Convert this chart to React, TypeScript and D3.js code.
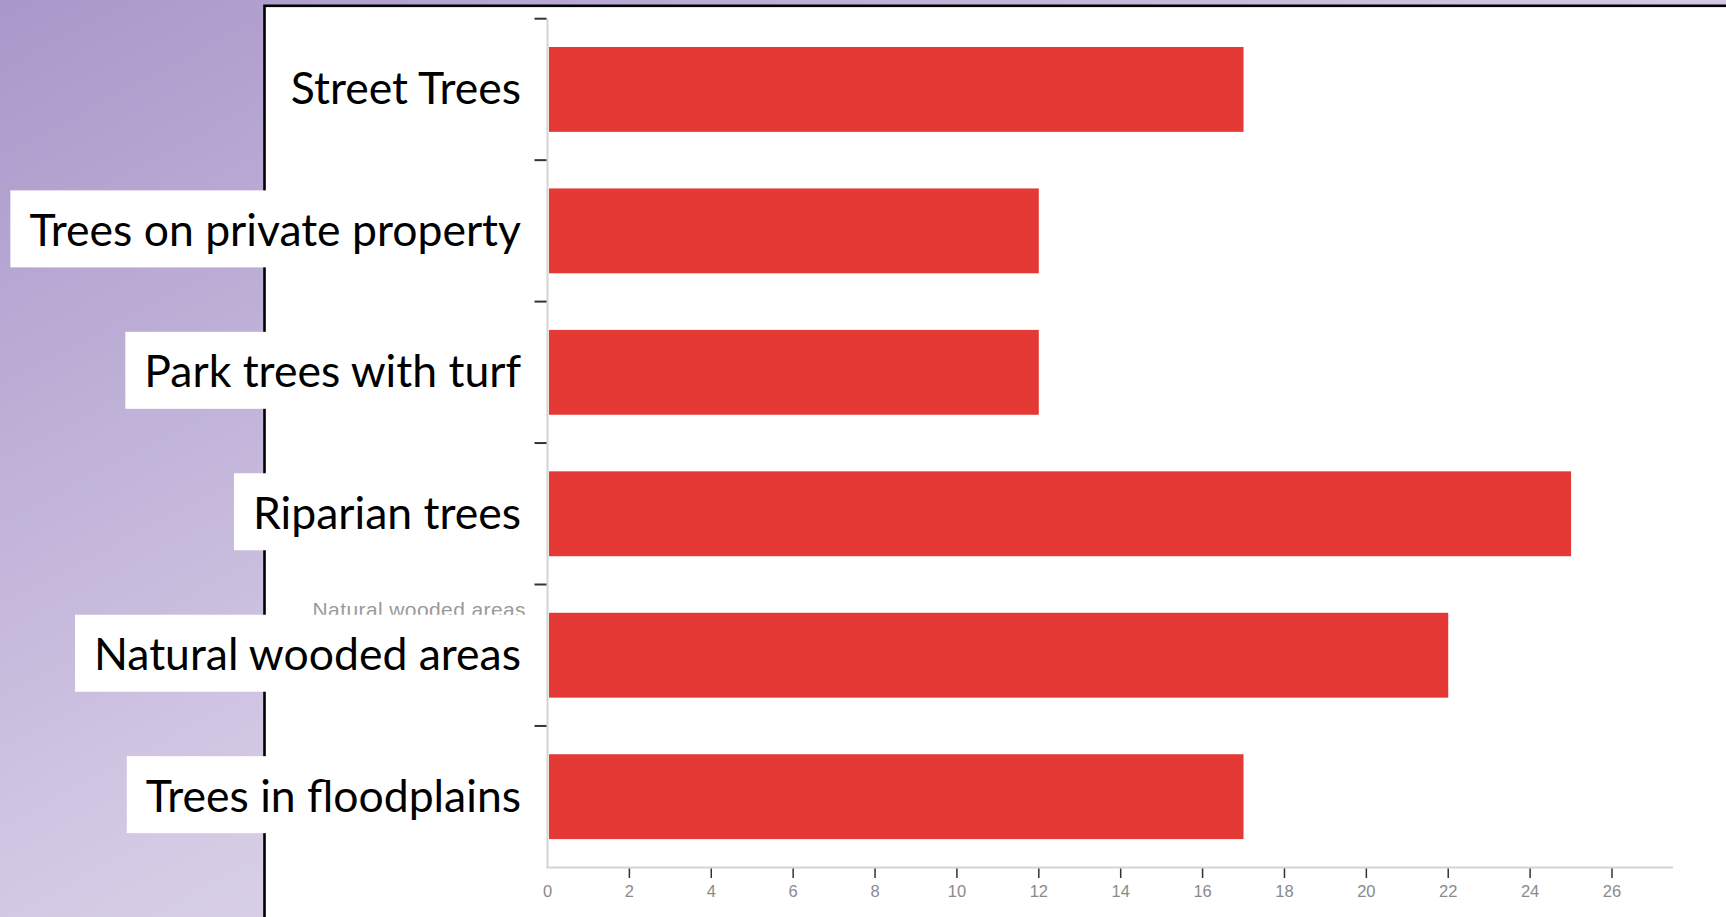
import React, { useEffect, useRef } from "react";
import * as d3 from "d3";

const categories = [
  "Street Trees",
  "Trees on private property",
  "Park trees with turf",
  "Riparian trees",
  "Natural wooded areas",
  "Trees in floodplains",
];
const values = [17, 12, 12, 25, 22, 17];
const xTicks = [0, 2, 4, 6, 8, 10, 12, 14, 16, 18, 20, 22, 24, 26];
const hiddenAxisLabel = "Natural wooded areas";

const W = 1726;
const H = 917;

export default function App() {
  const ref = useRef<SVGSVGElement | null>(null);

  useEffect(() => {
    const svg = d3.select(ref.current);
    svg.selectAll("*").remove();

    const defs = svg.append("defs");
    const grad = defs
      .append("linearGradient")
      .attr("id", "bg")
      .attr("x1", "0")
      .attr("y1", "0")
      .attr("x2", "1")
      .attr("y2", "1");
    grad.append("stop").attr("offset", "0").attr("stop-color", "#aa97ca");
    grad.append("stop").attr("offset", "0.5").attr("stop-color", "#d3c9e4");
    grad.append("stop").attr("offset", "1").attr("stop-color", "#eeebf4");

    svg.append("rect").attr("width", W).attr("height", H).attr("fill", "url(#bg)");

    // white panel
    const panelX = 264.5;
    const panelY = 5.8;
    svg
      .append("rect")
      .attr("x", panelX)
      .attr("y", panelY)
      .attr("width", W - panelX + 10)
      .attr("height", H - panelY + 10)
      .attr("fill", "#ffffff")
      .attr("stroke", "#000")
      .attr("stroke-width", 2.6);

    const x = d3.scaleLinear().domain([0, 26]).range([547.5, 1612]);
    const y = d3
      .scaleBand<string>()
      .domain(categories)
      .range([18.7, 867.4])
      .paddingInner(0.4)
      .paddingOuter(0.2);
    const step = y.step();

    // bars
    svg
      .append("g")
      .selectAll("rect")
      .data(categories)
      .join("rect")
      .attr("x", x(0) + 1.5)
      .attr("y", (d) => y(d)!)
      .attr("width", (d, i) => x(values[i]) - x(0) - 1.5)
      .attr("height", y.bandwidth())
      .attr("fill", "#e53935");

    // axis lines
    svg
      .append("line")
      .attr("x1", x(0))
      .attr("x2", x(0))
      .attr("y1", 18.7)
      .attr("y2", 867.4)
      .attr("stroke", "#d4d4d4")
      .attr("stroke-width", 2);
    svg
      .append("line")
      .attr("x1", x(0) - 1)
      .attr("x2", 1673)
      .attr("y1", 867.4)
      .attr("y2", 867.4)
      .attr("stroke", "#d4d4d4")
      .attr("stroke-width", 2);

    // y ticks at band boundaries
    const bounds = d3.range(categories.length).map((i) => 18.7 + i * step);
    svg
      .append("g")
      .selectAll("line")
      .data(bounds)
      .join("line")
      .attr("x1", x(0) - 13)
      .attr("x2", x(0) - 1)
      .attr("y1", (d) => d)
      .attr("y2", (d) => d)
      .attr("stroke", "#333")
      .attr("stroke-width", 2);

    // x ticks
    const xt = svg.append("g");
    xt.selectAll("line")
      .data(xTicks.filter((t) => t > 0))
      .join("line")
      .attr("x1", (d) => x(d))
      .attr("x2", (d) => x(d))
      .attr("y1", 868.5)
      .attr("y2", 878)
      .attr("stroke", "#333")
      .attr("stroke-width", 1.5);
    xt.selectAll("text")
      .data(xTicks)
      .join("text")
      .attr("x", (d) => x(d))
      .attr("y", 896.5)
      .attr("text-anchor", "middle")
      .attr("font-family", "Liberation Sans, Arial, sans-serif")
      .attr("font-size", 16.5)
      .attr("fill", "#8a8a8a")
      .text((d) => String(d));

    // peeking original axis label (mostly hidden under the overlay box)
    const hiddenIdx = categories.indexOf(hiddenAxisLabel);
    svg
      .append("text")
      .attr("x", 526)
      .attr("y", (y(categories[hiddenIdx]) as number) + 4)
      .attr("text-anchor", "end")
      .attr("font-family", "Liberation Sans, Arial, sans-serif")
      .attr("font-size", 21)
      .attr("letter-spacing", 0.4)
      .attr("fill", "#9a9a9a")
      .text(hiddenAxisLabel);

    // overlaid label boxes
    const labelRight = 521;
    const pad = 19;
    const boxH = 77;
    const lg = svg.append("g");
    categories.forEach((c, i) => {
      const cy = (y(c) as number) + y.bandwidth() / 2 - 2;
      const g = lg.append("g");
      const rect = g.append("rect").attr("fill", "#ffffff");
      const t = g
        .append("text")
        .attr("x", labelRight)
        .attr("y", cy + 17)
        .attr("text-anchor", "end")
        .attr("font-family", "Lato, 'Noto Sans', sans-serif")
        .attr("font-size", 44.5)
        .attr("fill", "#000")
        .text(c);
      const node = t.node() as SVGTextElement;
      const w = node.getComputedTextLength();
      const left = labelRight - w - pad;
      if (i === 0) {
        rect.attr("width", 0);
      } else {
        rect
          .attr("x", left)
          .attr("y", cy - boxH / 2)
          .attr("width", labelRight + pad - left)
          .attr("height", boxH);
      }
    });
  }, []);

  return (
    <svg
      ref={ref}
      width={W}
      height={H}
      style={{ position: "absolute", left: 0, top: 0, display: "block" }}
    />
  );
}
